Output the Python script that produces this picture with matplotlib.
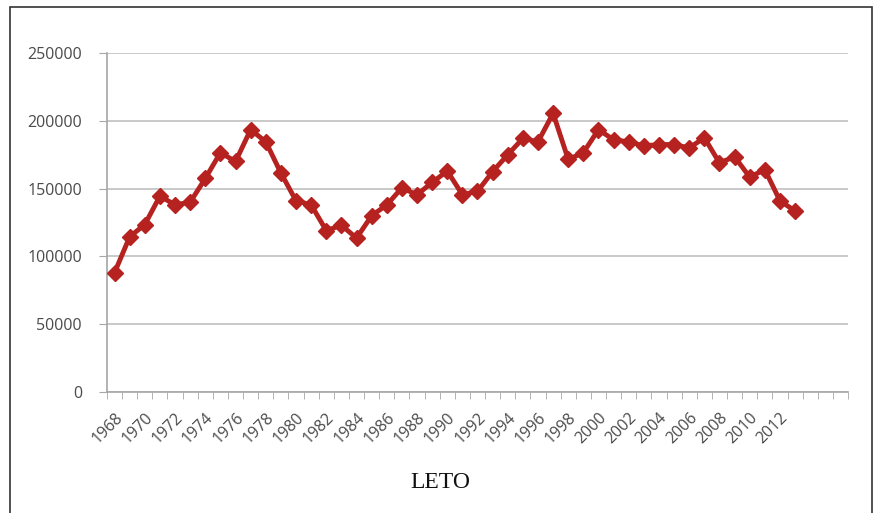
import numpy as np
import matplotlib
matplotlib.use("Agg")
import matplotlib.pyplot as plt
from matplotlib.patches import Rectangle

# Yearly values
years = list(range(1968, 2014))
values = [
    88000, 114500, 123500, 144500, 138000, 140000, 157500, 176500, 170000, 193500,
    184500, 161500, 141000, 138000, 119000, 123000, 113500, 130000, 138000, 150500,
    145500, 154500, 163000, 145500, 148000, 162500, 175000, 187000, 184500, 205500,
    171500, 176500, 193500, 186000, 184500, 181500, 182500, 182500, 180000, 187500,
    169000, 173500, 158500, 164000, 141000, 133500,
]
n_categories = 49  # the category axis runs on past the data (to 2016)
y_ticks = [0, 50000, 100000, 150000, 200000, 250000]
title = "LETO"

line_color = "#B5221F"
text_color = "#4a4a4a"
axis_color = "#a6a6a6"

fig = plt.figure(figsize=(8.74, 5.13), dpi=100)
ax = fig.add_axes([107 / 874, 1 - 392 / 513, (848 - 107) / 874, (392 - 53) / 513])

x = np.arange(len(years))
ax.plot(x, values, color=line_color, linewidth=3.5, marker="D", markersize=8,
        markeredgecolor=line_color, markerfacecolor=line_color, zorder=3)

# Axes limits and ticks
ax.set_xlim(-0.5, n_categories - 0.5)
ax.set_ylim(0, 250000)
ax.set_yticks(y_ticks)
ax.set_yticklabels([str(v) for v in y_ticks], fontsize=11.5, color=text_color,
                   family="Open Sans")

# Category boundaries get tick marks, every second year gets a label
ax.set_xticks(np.arange(-0.5, n_categories, 1.0), minor=True)
ax.set_xticks(x[::2])
ax.set_xticklabels([str(y) for y in years[::2]], rotation=45, ha="right",
                   rotation_mode="anchor", fontsize=11.5, color=text_color,
                   family="Open Sans")
ax.tick_params(axis="x", which="major", length=0, pad=13)
ax.tick_params(axis="x", which="minor", length=5, color=axis_color, direction="out")
ax.tick_params(axis="y", length=6, color=axis_color, pad=12)

# Gridlines and spines
ax.grid(axis="y", color="#c0c0c0", linewidth=1.2)
ax.set_axisbelow(True)
for side in ["top", "right"]:
    ax.spines[side].set_visible(False)
for side in ["left", "bottom"]:
    ax.spines[side].set_color(axis_color)
    ax.spines[side].set_linewidth(1.2)

fig.text(440 / 874, 1 - 482 / 513, title, ha="center", va="center",
         fontsize=17, family="Liberation Serif", color="#111111")

# Thin frame round the whole picture
fig.patches.append(Rectangle((10 / 874, -0.02), 862 / 874, 1 - 7 / 513 + 0.02,
                             transform=fig.transFigure, fill=False,
                             edgecolor="#333333", linewidth=1.2))

fig.savefig("out.png", dpi=100, facecolor="white")
